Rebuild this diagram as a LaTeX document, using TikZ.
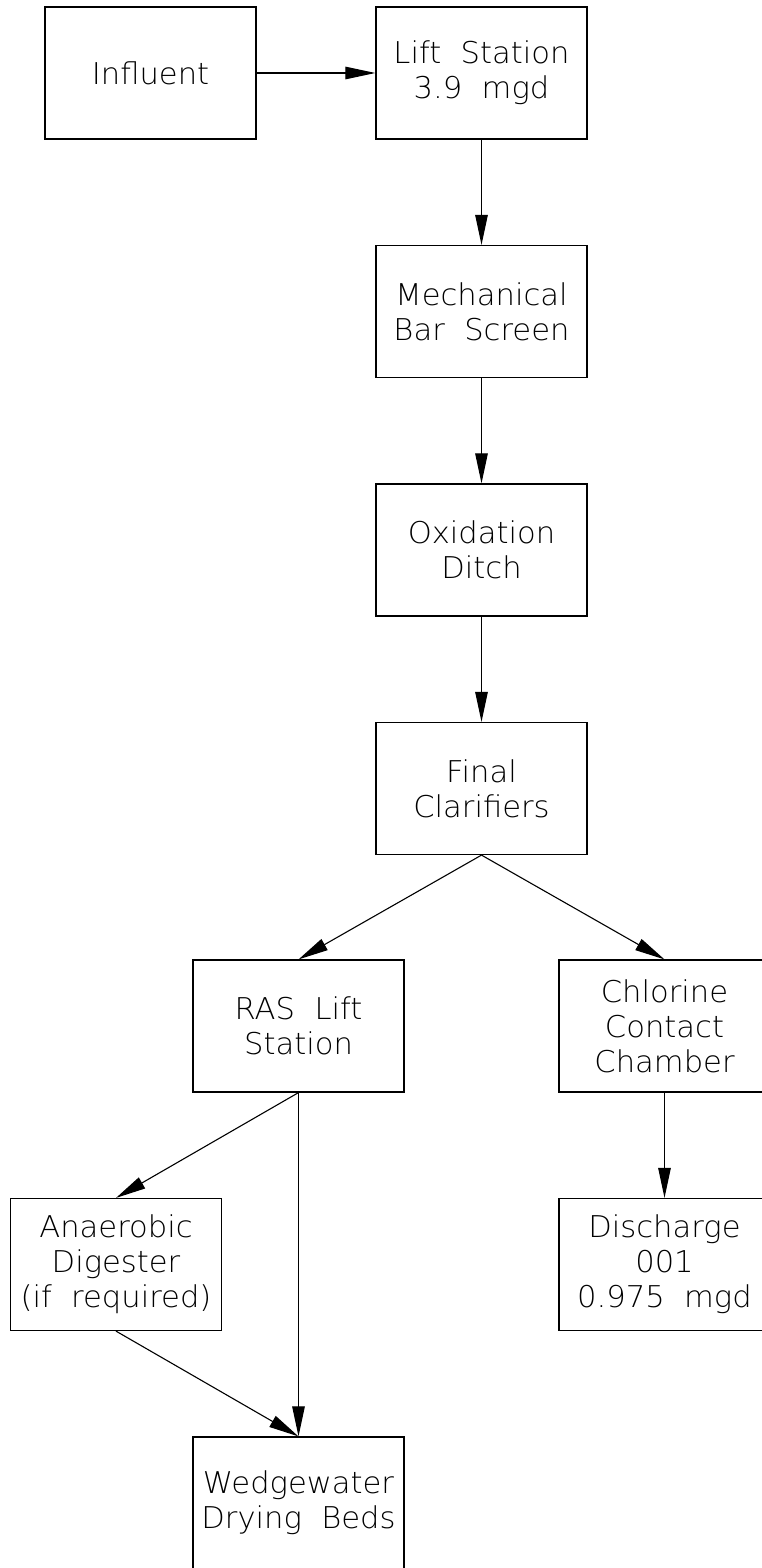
\documentclass[tikz,border=0pt]{standalone}
\usepackage{fontspec}
\newfontfamily\cadfont{DejaVu Sans ExtraLight}[FakeStretch=1.02]
\usetikzlibrary{arrows.meta}
\begin{document}
\begin{tikzpicture}[x=1pt,y=-1pt,
  blk/.style={draw,line width=1.2pt,minimum width=211pt,minimum height=132pt,inner sep=0pt,align=center,
    font=\cadfont\fontsize{30}{35}\selectfont},
  flow/.style={line width=1.1pt,-{Triangle[length=30pt,width=12.5pt]}}]
\useasboundingbox (0,0) rectangle (762,1568);
\clip (0,0) rectangle (762,1568);
\node[blk] (inf)  at (150.5,73)   {Influent};
\node[blk] (lift) at (481.5,73)   {Lift~~Station\\3.9~~mgd};
\node[blk] (mech) at (481.5,311.5) {Mechanical\\Bar~~Screen};
\node[blk] (ox)   at (481.5,550)  {Oxidation\\Ditch};
\node[blk] (fin)  at (481.5,788.5) {Final\\Clarifiers};
\node[blk] (ras)  at (298.5,1026) {RAS~~Lift\\Station};
\node[blk] (chl)  at (664.5,1026) {Chlorine\\Contact\\Chamber};
\node[blk] (ana)  at (116,1264.5) {Anaerobic\\Digester\\(if~~required)};
\node[blk] (dis)  at (664.5,1264.5) {Discharge\\001\\0.975~~mgd};
\node[blk] (wed)  at (298.5,1503) {Wedgewater\\Drying~~Beds};
\draw[flow] (inf.east) -- (lift.west);
\draw[flow] (lift.south) -- (mech.north);
\draw[flow] (mech.south) -- (ox.north);
\draw[flow] (ox.south) -- (fin.north);
\draw[flow] (fin.south) -- (ras.north);
\draw[flow] (fin.south) -- (chl.north);
\draw[flow] (chl.south) -- (dis.north);
\draw[flow] (ras.south) -- (ana.north);
\draw[flow] (ras.south) -- (wed.north);
\draw[flow] (ana.south) -- (wed.north);
\end{tikzpicture}
\end{document}
